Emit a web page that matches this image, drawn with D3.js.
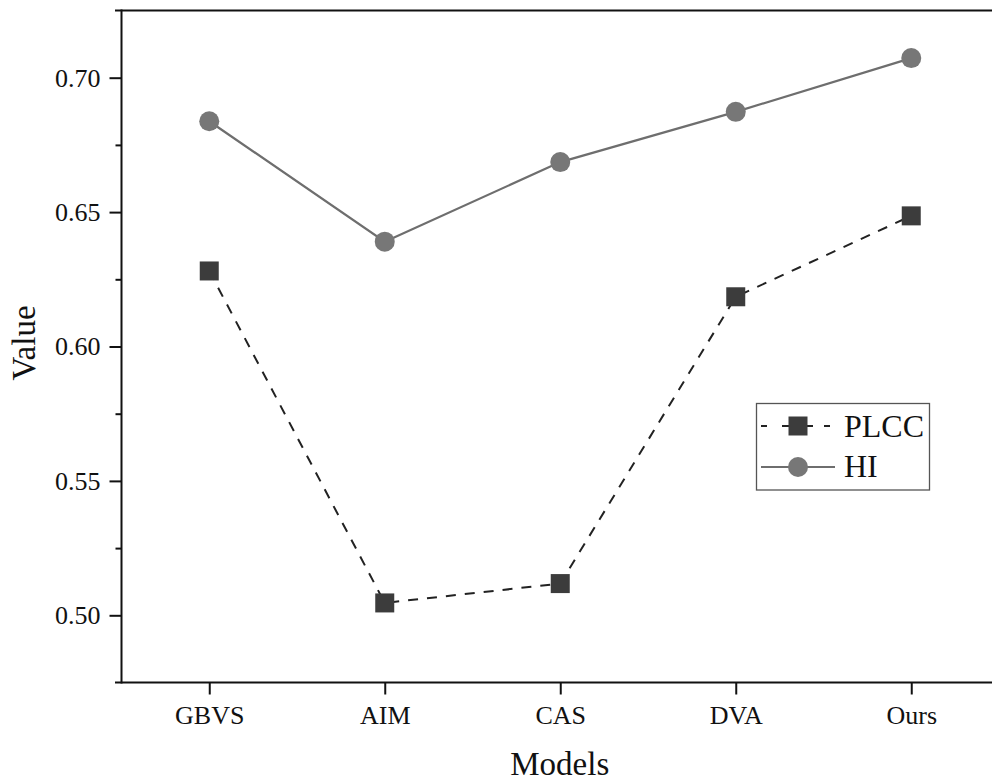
<!DOCTYPE html>
<html>
<head>
<meta charset="utf-8">
<script src="https://cdn.jsdelivr.net/npm/d3@7"></script>
<style>
html,body{margin:0;padding:0;background:#fff;}
svg{display:block;}
text{font-family:"Liberation Serif","Times New Roman",serif;fill:#111;}
</style>
</head>
<body>
<svg id="chart" width="992" height="782"></svg>
<script>
const categories = ["GBVS", "AIM", "CAS", "DVA", "Ours"];
const plccValues = [0.6281, 0.5046, 0.5118, 0.6185, 0.6486];
const hiValues = [0.6838, 0.6390, 0.6686, 0.6873, 0.7073];
const yMajorTicks = [0.50, 0.55, 0.60, 0.65, 0.70];
const yMinorTicks = [0.525, 0.575, 0.625, 0.675];
const seriesNames = ["PLCC", "HI"];

(function () {
const svg = d3.select("#chart");
const W = 992;
const pLeft = 121.5, pTop = 10.5, pBottom = 682.5, pRight = 999;

const x = d3.scaleLinear().domain([0.5, 5.5]).range([pLeft, pRight]);
const y = d3.scaleLinear().domain([0.475, 0.725]).range([pBottom, pTop]);

// frame top line
svg.append("line").attr("x1", 115).attr("x2", W).attr("y1", pTop).attr("y2", pTop)
  .attr("stroke", "#111").attr("stroke-width", 2);

// Y axis major
const yAxis = d3.axisLeft(y).tickValues(yMajorTicks).tickSize(12).tickPadding(9)
  .tickFormat(d3.format(".2f"));
const gy = svg.append("g").attr("transform", `translate(${pLeft},0)`).call(yAxis);
gy.select(".domain").attr("stroke", "#111").attr("stroke-width", 2).attr("d", `M0,${pTop - 1}V${pBottom + 1}`);
gy.selectAll(".tick line").attr("stroke", "#111").attr("stroke-width", 2);
gy.selectAll(".tick text").attr("font-size", 26).attr("font-family", "Liberation Serif").attr("fill", "#111");

// Y minor
const gym = svg.append("g").attr("transform", `translate(${pLeft},0)`)
  .call(d3.axisLeft(y).tickValues(yMinorTicks).tickSize(6).tickFormat(""));
gym.select(".domain").remove();
gym.selectAll(".tick line").attr("stroke", "#111").attr("stroke-width", 2);

// X axis
const xAxis = d3.axisBottom(x).tickValues(categories.map((c, i) => i + 1)).tickSize(12).tickPadding(11)
  .tickFormat((d) => categories[d - 1]);
const gx = svg.append("g").attr("transform", `translate(0,${pBottom})`).call(xAxis);
gx.select(".domain").attr("stroke", "#111").attr("stroke-width", 2).attr("d", `M115,0H${W}`);
gx.selectAll(".tick line").attr("stroke", "#111").attr("stroke-width", 2);
gx.selectAll(".tick text").attr("font-size", 26).attr("font-family", "Liberation Serif").attr("fill", "#111");

// axis titles
svg.append("text").attr("x", (pLeft + 998) / 2).attr("y", 775).attr("text-anchor", "middle")
  .attr("font-size", 33).text("Models");
svg.append("text").attr("transform", `translate(35,343) rotate(-90)`).attr("text-anchor", "middle")
  .attr("font-size", 33).text("Value");

const line = d3.line().x((d, i) => x(i + 1)).y((d) => y(d));

// HI line
svg.append("path").datum(hiValues).attr("d", line).attr("fill", "none")
  .attr("stroke", "#6e6e6e").attr("stroke-width", 2.2);
// PLCC line
svg.append("path").datum(plccValues).attr("d", line).attr("fill", "none")
  .attr("stroke", "#222").attr("stroke-width", 2).attr("stroke-dasharray", "10,9");

const sq = 19, r = 10;
svg.selectAll(".hi").data(hiValues).enter().append("circle")
  .attr("cx", (d, i) => x(i + 1)).attr("cy", (d) => y(d)).attr("r", r)
  .attr("fill", "#777");
svg.selectAll(".plcc").data(plccValues).enter().append("rect")
  .attr("x", (d, i) => x(i + 1) - sq / 2).attr("y", (d) => y(d) - sq / 2)
  .attr("width", sq).attr("height", sq).attr("fill", "#3c3c3c");

// legend
const lg = svg.append("g");
lg.append("rect").attr("x", 756.5).attr("y", 403.5).attr("width", 173).attr("height", 86.5)
  .attr("fill", "#fff").attr("stroke", "#555").attr("stroke-width", 1.3);
const legY = [426, 467];
// PLCC
lg.append("line").attr("x1", 761).attr("x2", 835).attr("y1", legY[0]).attr("y2", legY[0])
  .attr("stroke", "#222").attr("stroke-width", 2).attr("stroke-dasharray", "6,15");
lg.append("line").attr("x1", 782).attr("x2", 813).attr("y1", legY[0]).attr("y2", legY[0])
  .attr("stroke", "#222").attr("stroke-width", 2);
lg.append("rect").attr("x", 798 - sq / 2).attr("y", legY[0] - sq / 2).attr("width", sq).attr("height", sq)
  .attr("fill", "#3c3c3c");
lg.append("text").attr("x", 844).attr("y", legY[0] + 11).attr("font-size", 32).text(seriesNames[0]);
// HI
lg.append("line").attr("x1", 761).attr("x2", 835).attr("y1", legY[1]).attr("y2", legY[1])
  .attr("stroke", "#6e6e6e").attr("stroke-width", 2.2);
lg.append("circle").attr("cx", 798).attr("cy", legY[1]).attr("r", r).attr("fill", "#777");
lg.append("text").attr("x", 844).attr("y", legY[1] + 10).attr("font-size", 32).text(seriesNames[1]);
})();
</script>
</body>
</html>
